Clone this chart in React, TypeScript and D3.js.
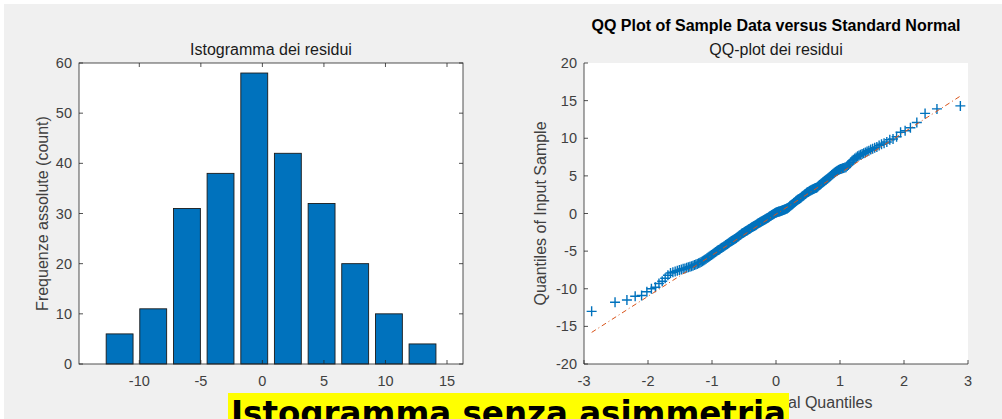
import React from "react";
import * as d3 from "d3";

// histogram of residuals (bar centers and counts)
const binCenters = [-11.6, -8.87, -6.13, -3.4, -0.66, 2.07, 4.81, 7.54, 10.28, 13.01];
const binCounts = [6, 11, 31, 38, 58, 42, 32, 20, 10, 4];
const histXTicks = [-10, -5, 0, 5, 10, 15];
const histYTicks = [0, 10, 20, 30, 40, 50, 60];

// sorted residuals
const residuals = [
  -13.0, -11.8, -11.5, -11.0, -10.9, -10.4, -10.0, -9.8, -9.3, -9.0,
  -8.6, -8.2, -7.9, -7.8, -7.7, -7.6, -7.52, -7.45, -7.35, -7.3,
  -7.22, -7.15, -7.08, -7.0, -6.93, -6.85, -6.78, -6.7, -6.62, -6.55,
  -6.45, -6.35, -6.25, -6.15, -6.05, -5.93, -5.82, -5.7, -5.6, -5.5,
  -5.4, -5.3, -5.2, -5.1, -5.02, -4.93, -4.85, -4.8, -4.7, -4.6,
  -4.52, -4.44, -4.36, -4.28, -4.2, -4.12, -4.04, -3.96, -3.88, -3.8,
  -3.73, -3.66, -3.59, -3.52, -3.45, -3.38, -3.31, -3.24, -3.17, -3.1,
  -3.02, -2.94, -2.86, -2.78, -2.7, -2.64, -2.58, -2.52, -2.46, -2.4,
  -2.34, -2.28, -2.22, -2.16, -2.1, -2.05, -2.0, -1.93, -1.86, -1.8,
  -1.75, -1.7, -1.65, -1.6, -1.55, -1.49, -1.43, -1.37, -1.31, -1.25,
  -1.2, -1.15, -1.1, -1.05, -1.0, -0.95, -0.9, -0.85, -0.8, -0.75,
  -0.7, -0.65, -0.6, -0.55, -0.5, -0.44, -0.38, -0.32, -0.26, -0.2,
  -0.15, -0.1, -0.05, 0.0, 0.05, 0.1, 0.13, 0.16, 0.19, 0.22,
  0.25, 0.28, 0.3, 0.33, 0.36, 0.39, 0.42, 0.45, 0.49, 0.53,
  0.57, 0.61, 0.65, 0.68, 0.74, 0.81, 0.88, 0.95, 1.02, 1.09,
  1.16, 1.23, 1.3, 1.38, 1.46, 1.54, 1.62, 1.7, 1.76, 1.82,
  1.88, 1.94, 2.0, 2.07, 2.14, 2.21, 2.28, 2.35, 2.43, 2.51,
  2.59, 2.67, 2.75, 2.81, 2.87, 2.93, 2.99, 3.05, 3.1, 3.15,
  3.2, 3.25, 3.3, 3.34, 3.38, 3.42, 3.5, 3.6, 3.69, 3.78,
  3.87, 3.96, 4.05, 4.14, 4.23, 4.32, 4.41, 4.5, 4.6, 4.7,
  4.8, 4.9, 5.0, 5.1, 5.2, 5.3, 5.4, 5.5, 5.6, 5.68,
  5.77, 5.85, 5.9, 5.95, 6.0, 6.05, 6.1, 6.15, 6.3, 6.45,
  6.6, 6.8, 7.0, 7.15, 7.3, 7.45, 7.6, 7.7, 7.8, 7.9,
  8.0, 8.12, 8.25, 8.35, 8.5, 8.6, 8.75, 8.85, 9.05, 9.2,
  9.35, 9.5, 9.8, 9.9, 10.2, 10.8, 11.0, 11.4, 12.1, 13.3,
  13.9, 14.3,
];
// reference line endpoints (data units)
const refLineX = [-2.88, 2.88];
const refLineY = [-15.8, 15.6];
const qqXTicks = [-3, -2, -1, 0, 1, 2, 3];
const qqYTicks = [-20, -15, -10, -5, 0, 5, 10, 15, 20];

const W = 1002;
const H = 419;
const FONT = "'Liberation Sans', Arial, Helvetica, sans-serif";
const AX = "#262626";
const TICK = "#404040";
const BLUE = "#0072BD";
const ORANGE = "#D95319";

// inverse standard normal CDF (Acklam)
function normInv(p: number) {
  const a = [-39.6968302866538, 220.946098424521, -275.928510446969, 138.357751867269, -30.6647980661472, 2.50662827745924];
  const b = [-54.4760987982241, 161.585836858041, -155.698979859887, 66.8013118877197, -13.2806815528857];
  const c = [-0.00778489400243029, -0.322396458041136, -2.40075827716184, -2.54973253934373, 4.37466414146497, 2.93816398269878];
  const d = [0.00778469570904146, 0.32246712907004, 2.445134137143, 3.75440866190742];
  const pl = 0.02425;
  if (p < pl) {
    const q = Math.sqrt(-2 * Math.log(p));
    return (((((c[0] * q + c[1]) * q + c[2]) * q + c[3]) * q + c[4]) * q + c[5]) /
      ((((d[0] * q + d[1]) * q + d[2]) * q + d[3]) * q + 1);
  }
  if (p > 1 - pl) {
    const q = Math.sqrt(-2 * Math.log(1 - p));
    return -(((((c[0] * q + c[1]) * q + c[2]) * q + c[3]) * q + c[4]) * q + c[5]) /
      ((((d[0] * q + d[1]) * q + d[2]) * q + d[3]) * q + 1);
  }
  const q = p - 0.5;
  const r = q * q;
  return (((((a[0] * r + a[1]) * r + a[2]) * r + a[3]) * r + a[4]) * r + a[5]) * q /
    (((((b[0] * r + b[1]) * r + b[2]) * r + b[3]) * r + b[4]) * r + 1);
}

const Histogram = () => {
  const left = 79, right = 463, top = 63, bottom = 364;
  const x = d3.scaleLinear().domain([-14.9, 16.3]).range([left, right]);
  const y = d3.scaleLinear().domain([0, 60]).range([bottom, top]);
  const binW = (binCenters[1] - binCenters[0]) * 0.8;
  const tl = 4;
  return (
    <g>
      <rect x={left} y={top} width={right - left} height={bottom - top} fill="#fff" />
      {binCenters.map((c, i) => (
        <rect key={i} x={x(c - binW / 2)} y={y(binCounts[i])}
          width={x(c + binW / 2) - x(c - binW / 2)} height={y(0) - y(binCounts[i])}
          fill={BLUE} stroke="#1a1a1a" strokeWidth={0.9} />
      ))}
      <rect x={left} y={top} width={right - left} height={bottom - top} fill="none" stroke={AX} strokeWidth={0.8} />
      {histXTicks.map((t) => (
        <g key={t}>
          <line x1={x(t)} x2={x(t)} y1={bottom} y2={bottom - tl} stroke={AX} strokeWidth={0.8} />
          <line x1={x(t)} x2={x(t)} y1={top} y2={top + tl} stroke={AX} strokeWidth={0.8} />
          <text x={x(t)} y={bottom + 22} textAnchor="middle" fontSize={14.5} fill={TICK} fontFamily={FONT}>{t}</text>
        </g>
      ))}
      {histYTicks.map((t) => (
        <g key={t}>
          <line x1={left} x2={left + tl} y1={y(t)} y2={y(t)} stroke={AX} strokeWidth={0.8} />
          <line x1={right} x2={right - tl} y1={y(t)} y2={y(t)} stroke={AX} strokeWidth={0.8} />
          <text x={left - 7} y={y(t) + 5} textAnchor="end" fontSize={14.5} fill={TICK} fontFamily={FONT}>{t}</text>
        </g>
      ))}
      <text x={(left + right) / 2} y={55} textAnchor="middle" fontSize={16} fill="#1a1a1a" fontFamily={FONT}>Istogramma dei residui</text>
      <text transform={`translate(48,${(top + bottom) / 2}) rotate(-90)`} textAnchor="middle" fontSize={16} fill={TICK} fontFamily={FONT}>Frequenze assolute (count)</text>
    </g>
  );
};

const QQPlot = () => {
  const left = 584, right = 968, top = 63, bottom = 364;
  const x = d3.scaleLinear().domain([-3, 3]).range([left, right]);
  const y = d3.scaleLinear().domain([-20, 20]).range([bottom, top]);
  const n = residuals.length;
  const pts = residuals.map((v, i) => [normInv((i + 0.5) / n), v]);
  const tl = 4;
  const ms = 5;
  const line = d3.line<number>().x((d) => x(d)).y((d, i) => y(refLineY[i]));
  return (
    <g>
      <rect x={left} y={top} width={right - left} height={bottom - top} fill="#fff" />
      {pts.map((p, i) => (
        <path key={i} d={`M${x(p[0]) - ms},${y(p[1])}H${x(p[0]) + ms}M${x(p[0])},${y(p[1]) - ms}V${y(p[1]) + ms}`}
          stroke={BLUE} strokeWidth={1.4} fill="none" />
      ))}
      <path d={line(refLineX) || ""} stroke={ORANGE} strokeWidth={1} strokeDasharray="5,3,1,3" fill="none" />
      <line x1={left} x2={left} y1={top} y2={bottom} stroke={AX} strokeWidth={0.8} />
      <line x1={left} x2={right} y1={bottom} y2={bottom} stroke={AX} strokeWidth={0.8} />
      {qqXTicks.map((t) => (
        <g key={t}>
          <line x1={x(t)} x2={x(t)} y1={bottom} y2={bottom - tl} stroke={AX} strokeWidth={0.8} />
          <text x={x(t)} y={bottom + 22} textAnchor="middle" fontSize={14.5} fill={TICK} fontFamily={FONT}>{t}</text>
        </g>
      ))}
      {qqYTicks.map((t) => (
        <g key={t}>
          <line x1={left} x2={left + tl} y1={y(t)} y2={y(t)} stroke={AX} strokeWidth={0.8} />
          <text x={left - 7} y={y(t) + 5} textAnchor="end" fontSize={14.5} fill={TICK} fontFamily={FONT}>{t}</text>
        </g>
      ))}
      <text x={(left + right) / 2} y={31} textAnchor="middle" fontSize={16} fontWeight="bold" fill="#000" fontFamily={FONT}>QQ Plot of Sample Data versus Standard Normal</text>
      <text x={(left + right) / 2} y={55} textAnchor="middle" fontSize={16} fill="#1a1a1a" fontFamily={FONT}>QQ-plot dei residui</text>
      <text transform={`translate(546,${(top + bottom) / 2}) rotate(-90)`} textAnchor="middle" fontSize={16} fill={TICK} fontFamily={FONT}>Quantiles of Input Sample</text>
      <text x={(left + right) / 2} y={408} textAnchor="middle" fontSize={16} fill={TICK} fontFamily={FONT}>Standard Normal Quantiles</text>
    </g>
  );
};

export default function App() {
  return (
    <div style={{ position: "absolute", left: 0, top: 0 }}>
      <svg width={W} height={H} style={{ display: "block" }}>
        <rect x={0} y={0} width={W} height={H} fill="#fff" />
        <rect x={4} y={4} width={W - 4} height={H - 4} fill="#f0f0f0" />
        <Histogram />
        <QQPlot />
        <rect x={228} y={393} width={561} height={30} fill="#ffff00" />
        <text x={231} y={425} fontSize={34} fontWeight="bold" fill="#000" fontFamily="'DejaVu Sans', sans-serif"
          textLength={555} lengthAdjust="spacingAndGlyphs">Istogramma senza asimmetria</text>
      </svg>
    </div>
  );
}
